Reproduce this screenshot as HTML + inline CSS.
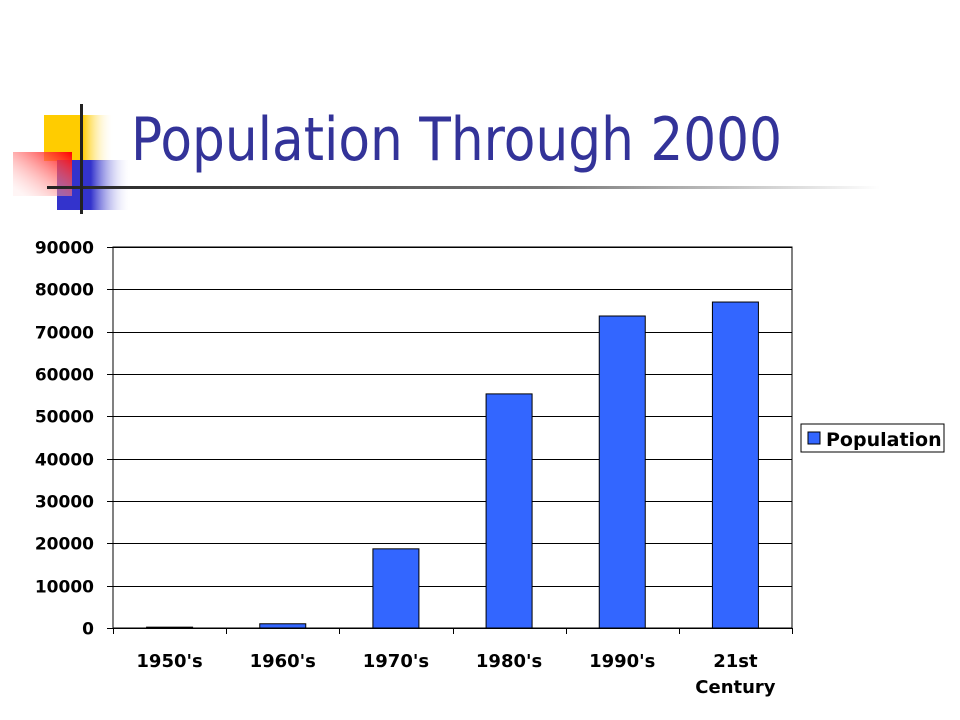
<!DOCTYPE html>
<html><head><meta charset="utf-8"><style>
html,body{margin:0;padding:0;background:#fff;width:960px;height:720px;overflow:hidden}
svg{display:block}
</style></head><body>
<svg width="960" height="720" viewBox="0 0 960 720" xmlns="http://www.w3.org/2000/svg">
<defs>
<linearGradient id="gy" x1="0" x2="1"><stop offset="0" stop-color="#ffcc00"/><stop offset="0.55" stop-color="#ffcc00"/><stop offset="1" stop-color="#fff" stop-opacity="0"/></linearGradient>
<linearGradient id="gb" x1="0" x2="1"><stop offset="0" stop-color="#3333cc"/><stop offset="0.45" stop-color="#3333cc"/><stop offset="1" stop-color="#fff" stop-opacity="0"/></linearGradient>
<linearGradient id="gr" x1="1" y1="0" x2="0" y2="1"><stop offset="0" stop-color="#ff0000"/><stop offset="0.9" stop-color="#ffdddd" stop-opacity="0.3"/></linearGradient>
<linearGradient id="gl" x1="0" x2="1"><stop offset="0" stop-color="#222"/><stop offset="0.6" stop-color="#777"/><stop offset="1" stop-color="#fff"/></linearGradient>
</defs>
<g>
<rect x="44" y="115" width="70" height="46" fill="url(#gy)"/>
<rect x="57" y="160" width="75" height="50" fill="url(#gb)"/>
<rect x="13" y="152" width="59" height="44" fill="url(#gr)"/>
<rect x="47" y="186" width="833" height="3" fill="url(#gl)"/>
<rect x="80" y="104" width="3" height="110" fill="#222"/>
</g>
<text x="131" y="160" font-family="DejaVu Sans, sans-serif" font-size="60" fill="#333399" textLength="651" lengthAdjust="spacingAndGlyphs">Population Through 2000</text>
<g id="chart"></g>
<g>
<rect x="801" y="424" width="143" height="28" fill="#fff" stroke="#000" stroke-width="1"/>
<rect x="808" y="432" width="12" height="12" fill="#3366ff" stroke="#000" stroke-width="1"/>
<text x="826" y="446" font-family="DejaVu Sans, sans-serif" font-weight="bold" font-size="19" fill="#000">Population</text>
</g>
</svg>
<script>
const categories = ["1950's","1960's","1970's","1980's","1990's","21st|Century"];
const values = [200, 1000, 18700, 55300, 73700, 77000];
const yTicks = [0,10000,20000,30000,40000,50000,60000,70000,80000,90000];
const X0=113, X1=792, Y0=628, Y1=247, YMAX=90000;
const NS="http://www.w3.org/2000/svg";
const g=document.getElementById('chart');
const band=(X1-X0)/categories.length;
const y=v=>Y0-(v/YMAX)*(Y0-Y1);
const x=i=>X0+band*i;
function mk(t,a){const e=document.createElementNS(NS,t);for(const k in a)e.setAttribute(k,a[k]);g.appendChild(e);return e;}
const frame=mk('rect',{x:X0,y:Y1,width:X1-X0,height:Y0-Y1,fill:'#fff',stroke:'#000','stroke-width':1});


yTicks.forEach(t=>{
  const yy=Math.round(y(t))+0.5;
  const l=mk('line',{x1:X0-6,x2:X1,y1:yy,y2:yy,stroke:'#000','stroke-width':1});
  
  
  const tx=mk('text',{x:94,y:yy+6,'text-anchor':'end','font-family':'DejaVu Sans, sans-serif','font-weight':'bold','font-size':17});
  tx.textContent=t;
  
  
});
categories.forEach((c,i)=>{
  const tk=mk('line',{x1:Math.round(x(i))+0.5,x2:Math.round(x(i))+0.5,y1:Y0,y2:Y0+6,stroke:'#000'});
  
  
  const cx=x(i)+band/2, w=46;
  const b=mk('rect',{x:cx-w/2,y:y(values[i]),width:w,height:Y0-y(values[i]),fill:'#3366ff',stroke:'#000','stroke-width':1});
  
  
  c.split('|').forEach((ln,j)=>{
    const t=mk('text',{x:cx,y:667+j*26,'text-anchor':'middle','font-family':'DejaVu Sans, sans-serif','font-weight':'bold','font-size':18});
    t.textContent=ln;
    
    
  });
});
const lastTick=mk('line',{x1:X1+0.5,x2:X1+0.5,y1:Y0,y2:Y0+6,stroke:'#000'});


</script>
</body></html>
